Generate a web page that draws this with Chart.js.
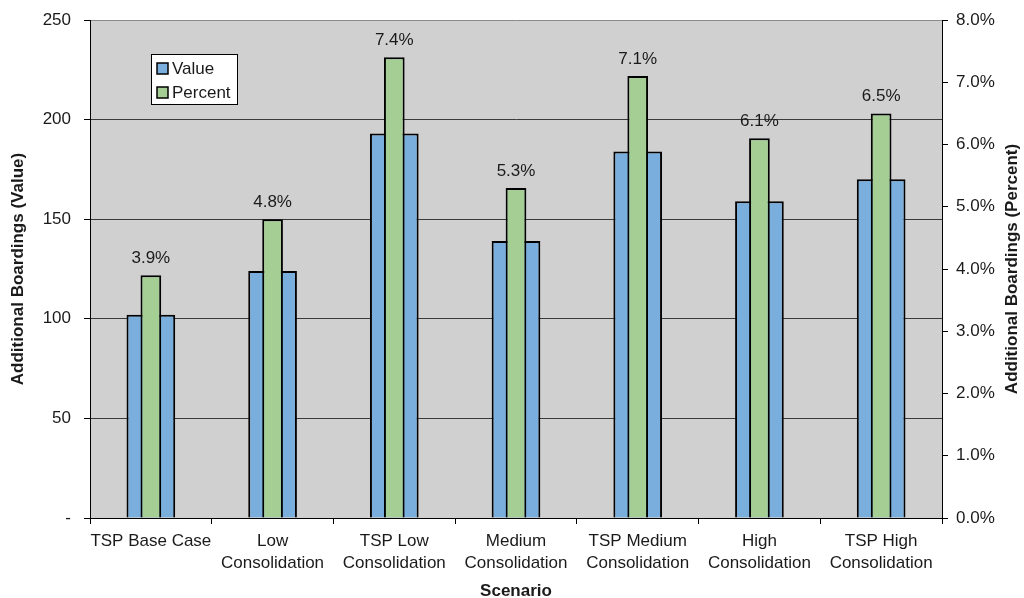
<!DOCTYPE html>
<html>
<head>
<meta charset="utf-8">
<title>Additional Boardings by Scenario</title>
<script src="https://cdn.jsdelivr.net/npm/chart.js@4/dist/chart.umd.min.js"></script>
<style>
  html, body { margin: 0; padding: 0; background: #ffffff; }
  #wrap { width: 1024px; height: 598px; position: relative; }
</style>
</head>
<body>
<div id="wrap"><canvas id="chart" width="1024" height="598"></canvas></div>
<script>
// Scenario categories
const scenarios = [
  'TSP Base Case',
  ['Low', 'Consolidation'],
  ['TSP Low', 'Consolidation'],
  ['Medium', 'Consolidation'],
  ['TSP Medium', 'Consolidation'],
  ['High', 'Consolidation'],
  ['TSP High', 'Consolidation']
];
// Additional boardings (count)
const boardingValues = [102, 124, 193, 139, 184, 159, 170];
// Additional boardings (percent)
const boardingPercents = [3.9, 4.8, 7.4, 5.3, 7.1, 6.1, 6.5];

const seriesNames = ['Value', 'Percent'];
const leftAxisTitle = 'Additional Boardings (Value)';
const rightAxisTitle = 'Additional Boardings (Percent)';
const xAxisTitle = 'Scenario';

const FONT = "'Liberation Sans', Arial, sans-serif";
const TEXT = '#1a1a1a';
const BLUE = '#7AAEDC';
const GREEN = '#A5CE94';
const PLOT_BG = '#D0D0D0';
const FS = 17;

// Grey plot background
const plotBackground = {
  id: 'plotBackground',
  beforeDraw(chart) {
    const { ctx, chartArea: a } = chart;
    ctx.save();
    ctx.fillStyle = PLOT_BG;
    ctx.fillRect(a.left, a.top, a.right - a.left, a.bottom - a.top);
    ctx.restore();
  }
};

// Percent labels above the green bars, plus the right-hand axis title
const percentLabels = {
  id: 'percentLabels',
  afterDatasetsDraw(chart) {
    const { ctx } = chart;
    const meta = chart.getDatasetMeta(1);
    ctx.save();
    ctx.font = FS + 'px ' + FONT;
    ctx.fillStyle = TEXT;
    ctx.textAlign = 'center';
    ctx.textBaseline = 'middle';
    meta.data.forEach((bar, i) => {
      ctx.fillText(boardingPercents[i].toFixed(1) + '%', bar.x, bar.y - 17);
    });
    ctx.restore();
  },
  afterDraw(chart) {
    const { ctx, chartArea: a } = chart;
    ctx.save();
    ctx.font = 'bold ' + FS + 'px ' + FONT;
    ctx.fillStyle = TEXT;
    ctx.textAlign = 'center';
    ctx.textBaseline = 'middle';
    ctx.translate(1012, (a.top + a.bottom) / 2);
    ctx.rotate(-Math.PI / 2);
    ctx.fillText(rightAxisTitle, 0, 0);
    ctx.restore();
  }
};

// Boxed legend sitting inside the plot area
const boxLegend = {
  id: 'boxLegend',
  afterDraw(chart) {
    const { ctx, chartArea: a } = chart;
    const x = a.left + 61, y = a.top + 34, w = 87, h = 51;
    ctx.save();
    ctx.fillStyle = '#ffffff';
    ctx.fillRect(x, y, w, h);
    ctx.strokeStyle = '#000000';
    ctx.lineWidth = 1;
    ctx.strokeRect(x + 0.5, y + 0.5, w - 1, h - 1);
    ctx.font = FS + 'px ' + FONT;
    ctx.textBaseline = 'middle';
    chart.data.datasets.forEach((ds, i) => {
      const cy = y + 14.5 + i * 24;
      ctx.fillStyle = ds.backgroundColor;
      ctx.fillRect(x + 6, cy - 5.5, 11, 11);
      ctx.strokeStyle = '#000000';
      ctx.lineWidth = 1.5;
      ctx.strokeRect(x + 6, cy - 5.5, 11, 11);
      ctx.fillStyle = TEXT;
      ctx.textAlign = 'left';
      ctx.fillText(ds.label, x + 21, cy + 0.5);
    });
    ctx.restore();
  }
};

// Fixed axis band widths; no extra label overhang above the plot
function fixVertical(width) {
  return (scale) => {
    scale.width = width;
    scale.paddingTop = 0;
    scale.paddingBottom = 0;
  };
}

new Chart(document.getElementById('chart'), {
  type: 'bar',
  data: {
    labels: scenarios,
    datasets: [
      {
        label: seriesNames[0],
        data: boardingValues,
        yAxisID: 'y',
        backgroundColor: BLUE,
        borderColor: '#000000',
        borderWidth: 2,
        barPercentage: 0.40,
        categoryPercentage: 1,
        grouped: false,
        order: 1
      },
      {
        label: seriesNames[1],
        data: boardingPercents,
        yAxisID: 'y1',
        backgroundColor: GREEN,
        borderColor: '#000000',
        borderWidth: 2,
        barPercentage: 0.17,
        categoryPercentage: 1,
        grouped: false,
        order: 0
      }
    ]
  },
  options: {
    responsive: false,
    animation: false,
    events: [],
    layout: { padding: { top: 20, left: 0, right: 0, bottom: 0 } },
    plugins: {
      legend: { display: false },
      tooltip: { enabled: false },
      title: { display: false }
    },
    scales: {
      x: {
        offset: true,
        grid: {
          offset: true,
          drawOnChartArea: false,
          drawTicks: true,
          tickLength: 6,
          tickColor: '#000000'
        },
        border: { color: '#000000', width: 1 },
        ticks: {
          color: TEXT,
          padding: 6,
          maxRotation: 0,
          autoSkip: false,
          font: { family: FONT, size: FS, lineHeight: 1.3 }
        },
        title: {
          display: true,
          text: xAxisTitle,
          color: TEXT,
          padding: { top: 0, bottom: 0 },
          font: { family: FONT, size: FS, weight: 'bold', lineHeight: 0.8 }
        },
        afterFit(scale) {
          scale.height = 80;
          scale.paddingLeft = 0;
          scale.paddingRight = 0;
        }
      },
      y: {
        position: 'left',
        min: 0,
        max: 250,
        ticks: {
          stepSize: 50,
          color: TEXT,
          padding: 13,
          font: { family: FONT, size: FS },
          callback: (v) => (v === 0 ? '-' : v)
        },
        grid: {
          color: (c) => (c.tick && c.tick.value === 250 ? '#8a8a8a' : '#3a3a3a'),
          lineWidth: 1,
          tickLength: 6,
          tickColor: '#000000'
        },
        border: { color: '#000000', width: 1 },
        title: {
          display: true,
          text: leftAxisTitle,
          color: TEXT,
          padding: { top: 8, bottom: 0 },
          font: { family: FONT, size: FS, weight: 'bold', lineHeight: 1.2 }
        },
        afterFit: fixVertical(90)
      },
      y1: {
        position: 'right',
        min: 0,
        max: 8,
        ticks: {
          stepSize: 1,
          color: TEXT,
          padding: 8,
          font: { family: FONT, size: FS },
          callback: (v) => v.toFixed(1) + '%'
        },
        grid: {
          drawOnChartArea: false,
          tickLength: 6,
          tickColor: '#000000'
        },
        border: { color: '#000000', width: 1 },
        afterFit: fixVertical(82)
      }
    }
  },
  plugins: [plotBackground, percentLabels, boxLegend]
});
</script>
</body>
</html>
